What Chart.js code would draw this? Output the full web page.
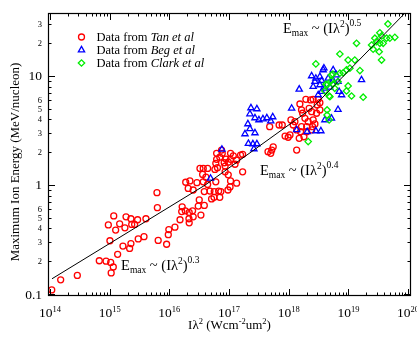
<!DOCTYPE html>
<html>
<head>
<meta charset="utf-8">
<script src="https://cdn.jsdelivr.net/npm/chart.js@4.4.1/dist/chart.umd.min.js"></script>
<style>
html, body { margin: 0; padding: 0; background: #fff; }
#wrap { width: 417px; height: 338px; }
</style>
</head>
<body>
<div id="wrap"><canvas id="chart"></canvas></div>
<script>
// Data from Tan et al (I lambda^2 in W cm^-2 um^2, energy in MeV/nucleon)
var tanX = [1.07e14, 1.51e14, 2.87e14, 6.7e14, 8.7e14, 1.04e15, 1.15e15, 1.06e15, 1.36e15, 1.01e15,
    9.5e14, 1.17e15, 1.26e15, 1.47e15, 1.67e15, 1.88e15, 1.80e15, 2.16e15, 2.27e15, 2.27e15,
    2.34e15, 2.62e15, 2.94e15, 3.01e15, 3.76e15, 4.05e15, 6.2e15, 6.3e15, 6.5e15, 9.0e15,
    9.6e15, 9.8e15, 1.24e16,
    1.51e16, 1.64e16, 1.61e16, 1.85e16, 2.15e16, 2.13e16, 2.15e16, 2.45e16, 2.51e16, 3.05e16,
    3.17e16, 3.38e16, 3.85e16,
    1.88e16, 2.21e16, 2.07e16, 2.51e16, 2.90e16, 3.26e16, 3.70e16, 4.38e16, 3.61e16, 4.10e16,
    3.70e16, 4.38e16, 3.85e16, 4.79e16, 5.65e16, 6.7e16, 7.3e16, 5.1e16, 5.6e16, 7.0e16,
    5.8e16, 6.4e16, 6.0e16, 8.6e16, 9.7e16, 1.06e17, 9.6e16, 1.04e17, 1.34e17, 1.69e17,
    6.2e16, 7.0e16, 6.2e16, 6.0e16, 7.5e16, 8.9e16, 9.7e16, 8.3e16, 1.06e17, 1.18e17,
    1.06e17, 1.34e17, 1.56e17, 1.26e17, 8.6e16, 7.7e16,
    4.5e17, 1.69e17,
    4.8e17, 6.9e17, 7.8e17, 5.5e17, 5.2e17, 5.0e17, 8.7e17, 9.8e17, 1.05e18, 1.09e18,
    1.27e18, 1.19e18, 1.36e18, 1.50e18, 1.36e18,
    1.54e18, 1.64e18, 1.71e18, 1.94e18, 2.33e18, 2.57e18, 3.12e18, 3.00e18, 3.33e18, 2.20e18,
    2.42e18, 2.93e18, 3.33e18, 1.87e18, 2.12e18, 2.57e18, 2.75e18, 2.51e18, 2.0e18, 1.64e18,
    1.58e18, 2.0e18, 2.42e18, 1.80e18];
var tanY = [0.109, 0.135, 0.148, 0.202, 0.20, 0.195, 0.177, 0.156, 0.231, 0.308,
    0.43, 0.52, 0.386, 0.44, 0.275, 0.51, 0.405, 0.262, 0.29, 0.49,
    0.435, 0.435, 0.48, 0.32, 0.336, 0.49, 0.85, 0.62, 0.31, 0.286,
    0.35, 0.39, 0.41,
    0.48, 0.63, 0.57, 0.58, 0.56, 0.49, 0.45, 0.58, 0.51, 0.64,
    0.73, 0.53, 0.65,
    1.06, 1.09, 0.93, 0.90, 1.05, 1.42, 1.42, 1.42, 1.25, 1.18,
    1.07, 1.01, 0.87, 0.88, 0.87, 0.88, 0.87, 0.745, 0.77, 0.77,
    1.39, 1.44, 1.07, 1.32, 1.24, 1.09, 0.90, 0.96, 1.04, 1.32,
    1.95, 1.80, 1.72, 1.58, 2.09, 1.73, 1.62, 1.60, 1.95, 1.85,
    1.72, 1.69, 1.88, 1.55, 1.49, 1.95,
    2.02, 1.91,
    3.43, 3.55, 3.55, 2.24, 2.09, 1.95, 2.81, 2.74, 2.88, 3.95,
    3.81, 3.55, 3.20, 2.68, 2.09,
    5.53, 4.88, 4.55, 6.11, 6.03, 6.11, 6.11, 5.42, 5.69, 5.05,
    4.70, 4.55, 4.88, 4.09, 3.81, 3.95, 3.63, 3.43, 3.43, 3.43,
    3.08, 3.08, 3.20, 2.77];

// Data from Beg et al
var begX = [7.6e16, 4.9e16, 2.33e17, 2.93e17, 2.24e17, 2.72e17, 3.17e17, 3.70e17, 4.3e17, 5.0e17,
    5.4e17, 2.07e17, 1.85e17, 2.24e17, 2.72e17, 2.11e17, 2.51e17, 2.93e17, 2.61e17,
    1.12e18, 1.50e18, 2.42e18, 2.85e18, 3.33e18, 3.89e18, 3.33e18, 4.04e18, 3.12e18, 4.04e18,
    2.85e18, 3.46e18, 2.04e18, 1.36e18, 6.7e18, 3.78e18, 5.56e18, 6.3e18, 2.75e18, 3.56e18,
    4.59e18, 5.56e18, 6.7e18, 2.57e18, 4.9e18, 3.56e18, 7.0e18, 1.66e19, 7.7e18, 5.2e18];
var begY = [2.12, 1.15, 5.09, 4.98, 4.48, 4.12, 3.95, 4.03, 4.12, 3.86,
    4.21, 3.63, 2.94, 3.27, 3.0, 2.40, 2.38, 2.38, 2.14,
    5.05, 7.55, 10.0, 9.5, 9.85, 11.8, 8.27, 7.71, 6.70, 3.95,
    3.13, 3.13, 3.08, 3.20, 4.91, 11.35, 11.35, 10.2, 8.87, 9.06,
    9.5, 9.06, 8.87, 7.98, 7.87, 7.18, 7.18, 9.2, 6.70, 4.09];

// Data from Clark et al
var clarkX = [2.85e18, 5.2e18, 6.7e18, 4.4e18, 5.9e18, 4.9e18, 4.4e18, 4.76e18, 2.12e18, 4.6e19,
    3.37e19, 3.6e19, 2.78e19, 2.96e19, 3.37e19, 3.83e19, 4.36e19, 4.95e19, 6.0e19, 2.45e19,
    2.60e19, 3.28e19, 3.6e19, 1.37e19, 7.2e18, 9.9e18, 1.28e19, 1.56e19, 1.06e19, 9.3e18,
    8.2e18, 7.2e18, 5.5e18, 5.2e18, 4.2e18, 5.56e18, 9.9e18, 9.3e18, 1.13e19, 1.77e19,
    4.04e18, 4.76e18, 4.4e18];
var clarkY = [12.9, 10.2, 8.87, 8.27, 7.71, 6.46, 4.38, 3.95, 2.50, 30.0,
    24.9, 23.3, 22.2, 20.7, 19.95, 19.95, 22.2, 22.2, 22.6, 19.2,
    17.6, 16.7, 14.0, 19.95, 15.9, 14.0, 14.0, 11.2, 11.8, 11.35,
    10.7, 10.6, 10.4, 9.06, 8.4, 8.45, 8.1, 7.28, 6.55, 6.38,
    7.28, 6.55, 4.88];

// scaling law fit, piecewise
var fitX = [1.08e14, 4.0e16, 2.5e18, 8.9e19];
var fitY = [0.138, 1.0, 5.1, 37.8];
var fitExponents = ['0.3', '0.4', '0.5'];

var seriesNames = ['Tan et al', 'Beg et al', 'Clark et al'];
var xTickExp = [14, 15, 16, 17, 18, 19, 20];
var yTickValues = [0.1, 0.2, 0.3, 0.4, 0.5, 0.6, 1, 2, 3, 4, 5, 6, 10, 20, 30];
var yTickText = ['0.1', '2', '3', '4', '5', '6', '1', '2', '3', '4', '5', '6', '10', '2', '3'];
var yMajorValues = [0.1, 1, 10];

var SERIF = '"Liberation Serif", "DejaVu Serif", serif';

function pairs(xs, ys) {
    return xs.map(function (x, i) { return {x: x, y: ys[i]}; });
}

function logTicks(scale) {
    var ticks = [];
    var lo = Math.floor(Math.log10(scale.min)), hi = Math.ceil(Math.log10(scale.max));
    for (var e = lo; e <= hi; e++) {
        for (var m = 1; m <= 9; m++) {
            var v = m * Math.pow(10, e);
            if (v >= scale.min && v <= scale.max) ticks.push({value: v, major: m === 1});
        }
    }
    scale.ticks = ticks;
}

function richText(ctx, parts, x, y, align) {
    // parts: [text, size, dy, italic]
    var w = 0;
    parts.forEach(function (p) {
        ctx.font = (p[3] ? 'italic ' : '') + p[1] + 'px ' + SERIF;
        w += ctx.measureText(p[0]).width;
    });
    var cx = align === 'center' ? x - w / 2 : x;
    ctx.textAlign = 'left';
    ctx.textBaseline = 'alphabetic';
    parts.forEach(function (p) {
        ctx.font = (p[3] ? 'italic ' : '') + p[1] + 'px ' + SERIF;
        ctx.fillText(p[0], cx, y + p[2]);
        cx += ctx.measureText(p[0]).width;
    });
}

var frame = {
    id: 'frame',
    afterDraw: function (chart) {
        var ctx = chart.ctx, a = chart.chartArea;
        var xs = chart.scales.x, ys = chart.scales.y;
        ctx.save();
        ctx.strokeStyle = '#000';
        ctx.fillStyle = '#000';
        ctx.lineWidth = 1.2;
        ctx.strokeRect(a.left + 0.5, a.top + 0.5, a.right - a.left - 1, a.bottom - a.top - 1);

        ctx.lineWidth = 1;
        ctx.beginPath();
        xs.ticks.forEach(function (t) {
            var px = Math.round(xs.getPixelForValue(t.value)) + 0.5;
            var len = t.major ? 7 : 3.5;
            ctx.moveTo(px, a.bottom); ctx.lineTo(px, a.bottom - len);
            ctx.moveTo(px, a.top); ctx.lineTo(px, a.top + len);
        });
        ys.ticks.forEach(function (t) {
            var py = Math.round(ys.getPixelForValue(t.value)) + 0.5;
            var len = t.major ? 7 : 3.5;
            ctx.moveTo(a.left, py); ctx.lineTo(a.left + len, py);
            ctx.moveTo(a.right, py); ctx.lineTo(a.right - len, py);
        });
        ctx.stroke();

        // x tick labels 10^n
        xTickExp.forEach(function (e) {
            var px = xs.getPixelForValue(Math.pow(10, e));
            richText(ctx, [['10', 13.5, 0], [String(e), 8.5, -5]], px, a.bottom + 21, 'center');
        });
        // y tick labels
        yTickValues.forEach(function (v, i) {
            var py = ys.getPixelForValue(v);
            var major = yMajorValues.indexOf(v) >= 0;
            ctx.font = (major ? 13.5 : 8.5) + 'px ' + SERIF;
            ctx.textAlign = 'right';
            ctx.textBaseline = 'alphabetic';
            ctx.fillText(yTickText[i], a.left - 6, py + (major ? 4.5 : 3));
        });

        // axis titles
        richText(ctx, [['I\u03bb', 13, 0], ['2', 8.5, -5], [' (Wcm', 13, 0], ['-2', 8.5, -5],
            ['um', 13, 0], ['2', 8.5, -5], [')', 13, 0]], (a.left + a.right) / 2, 329, 'center');
        ctx.save();
        ctx.translate(18.5, 162);
        ctx.rotate(-Math.PI / 2);
        ctx.font = '13px ' + SERIF;
        ctx.textAlign = 'center';
        ctx.textBaseline = 'alphabetic';
        ctx.fillText('Maximum Ion Energy (MeV/nucleon)', 0, 0);
        ctx.restore();

        // scaling law labels, anchored in data coordinates
        var anchors = [[1.55e15, 0.166], [3.3e17, 1.24], [8.0e17, 24.8]];
        anchors.forEach(function (p, i) {
            var x = xs.getPixelForValue(p[0]), y = ys.getPixelForValue(p[1]);
            richText(ctx, [['E', 14.5, 0], ['max', 9.5, 3], [' ~ (I\u03bb', 14.5, 0], ['2', 9.5, -6],
                [')', 14.5, 0], [fitExponents[i], 9.5, -7]], x, y, 'left');
        });

        // legend
        chart.data.datasets.slice(0, 3).forEach(function (ds, i) {
            var y = 37 + i * 13;
            ctx.strokeStyle = ds.borderColor;
            ctx.fillStyle = 'rgba(0,0,0,0)';
            ctx.lineWidth = ds.borderWidth;
            Chart.helpers.drawPoint(ctx, {pointStyle: ds.pointStyle, radius: ds.pointRadius,
                borderWidth: ds.borderWidth, rotation: 0}, 81.5, y);
            ctx.fillStyle = '#000';
            richText(ctx, [['Data from ', 12.5, 0], [seriesNames[i], 12.5, 0, true]], 96.5, y + 4, 'left');
        });
        ctx.restore();
    }
};

var chart = new Chart(document.getElementById('chart'), {
    type: 'scatter',
    data: {
        datasets: [
            {
                label: seriesNames[0], data: pairs(tanX, tanY), order: 3,
                pointStyle: 'circle', pointRadius: 3, borderWidth: 1.3,
                borderColor: '#ff0000', backgroundColor: 'rgba(0,0,0,0)'
            },
            {
                label: seriesNames[1], data: pairs(begX, begY), order: 2,
                pointStyle: 'triangle', pointRadius: 3.6, borderWidth: 1.3,
                borderColor: '#0000ff', backgroundColor: 'rgba(0,0,0,0)'
            },
            {
                label: seriesNames[2], data: pairs(clarkX, clarkY), order: 1,
                pointStyle: 'rectRot', pointRadius: 3.2, borderWidth: 1.3,
                borderColor: '#00ee00', backgroundColor: 'rgba(0,0,0,0)'
            },
            {
                label: 'fit', data: pairs(fitX, fitY), order: 0, showLine: true,
                pointRadius: 0, borderWidth: 1, borderColor: '#000'
            }
        ]
    },
    options: {
        responsive: true,
        maintainAspectRatio: false,
        animation: false,
        layout: {padding: {top: 13, right: 6, left: 0, bottom: 0}},
        plugins: {legend: {display: false}, tooltip: {enabled: false}},
        scales: {
            x: {
                type: 'logarithmic', min: 0.926e14, max: 1.12e20,
                afterBuildTicks: logTicks,
                afterFit: function (s) { s.height = 42; },
                ticks: {display: false}, grid: {display: false}, border: {display: false}
            },
            y: {
                type: 'logarithmic', min: 0.0959, max: 37.8,
                afterBuildTicks: logTicks,
                afterFit: function (s) { s.width = 48; },
                ticks: {display: false}, grid: {display: false}, border: {display: false}
            }
        }
    },
    plugins: [frame]
});
</script>
</body>
</html>
